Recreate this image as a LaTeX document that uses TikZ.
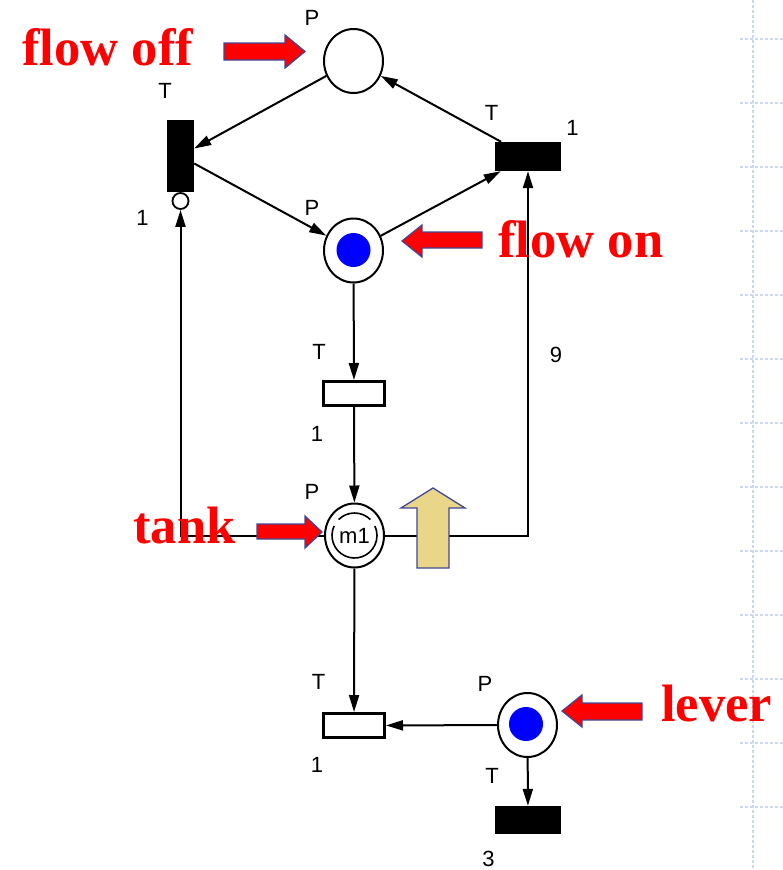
\documentclass[tikz,border=0pt]{standalone}
\usepackage{fontspec}
\setmainfont{Liberation Serif}
\setsansfont{Liberation Sans}
\usetikzlibrary{arrows.meta,shapes.geometric}
\definecolor{calloutred}{RGB}{255,0,0}
\definecolor{calloutedge}{RGB}{62,72,150}
\definecolor{tokenblue}{RGB}{0,0,255}
\definecolor{khaki}{RGB}{234,214,136}
\definecolor{gridblue}{RGB}{205,214,242}
\begin{document}
\begin{tikzpicture}[x=1pt,y=-1pt,
  place/.style={ellipse,draw,line width=2pt,fill=white,minimum width=59pt,minimum height=64pt,inner sep=0pt},
  token/.style={circle,fill=tokenblue,minimum size=34pt,inner sep=0pt},
  blackbar/.style={rectangle,fill=black,inner sep=0pt},
  whitebar/.style={rectangle,draw,line width=3pt,fill=white,minimum width=61pt,minimum height=24pt,inner sep=0pt},
  inhib/.style={circle,draw,line width=1.8pt,fill=white,minimum size=16pt,inner sep=0pt},
  arc/.style={-{Triangle[length=17pt,width=10pt]},line width=2pt},
  lab/.style={font=\sffamily\fontsize{22}{22}\selectfont,inner sep=0pt},
  callout/.style={font=\rmfamily\bfseries\fontsize{52.6}{60}\selectfont,text=calloutred,inner sep=0pt,anchor=base west},
  calloutarrow/.style={fill=calloutred,draw=calloutedge,line width=1.3pt,line join=miter},
  grid/.style={draw=gridblue,line width=1.4pt,dash pattern=on 3pt off 2pt}
]
\useasboundingbox (0,0) rectangle (783,870);
% slide decoration
\draw[grid] (753,0) -- (753,870);
\foreach \k in {0,...,12}{
  \draw[grid] (740,{39+64*\k}) -- (783,{39+64*\k});
}
% places
\node[place] (p1) at (353.5,61) {};
\node[place] (p2) at (353.5,250.5) {};
\node[token] (p2tok) at (353.5,250) {};
\node[place,font=\sffamily\fontsize{22}{22}\selectfont] (tank) at (354.5,535.5) {m1};
\node[place] (lever) at (527.5,725) {};
\node[token] (levertok) at (526,724) {};
% transitions
\node[blackbar,minimum width=27pt,minimum height=72pt] (t1) at (180.5,156) {};
\node[inhib] (inh) at (180.5,201) {};
\node[blackbar,minimum width=66pt,minimum height=29pt] (t2) at (528,156.5) {};
\node[whitebar] (t3) at (354,393.5) {};
\node[whitebar] (t4) at (354,725.5) {};
\node[blackbar,minimum width=66pt,minimum height=28pt] (t5) at (528,820) {};
% inner ring of the tank place
\draw[line width=1.6pt] ([shift={(-135:22.5)}]tank.center) arc[start angle=-135,end angle=-45,radius=22.5];
\draw[line width=1.6pt] ([shift={(-155:22.5)}]tank.center) arc[start angle=-155,end angle=-385,radius=22.5];
% connectors
\draw[arc] (p1) -- (t1);
\draw[arc] (t1) -- (p2);
\draw[arc] (p2) -- (t2);
\draw[arc] (t2) -- (p1);
\draw[arc] (p2) -- (t3);
\draw[arc] (t3) -- (tank);
\draw[arc] (tank) -- (t4);
\draw[arc] (lever) -- (t4);
\draw[arc] (lever) -- (t5);
\draw[arc] (tank.east) -| (t2.south);
\draw[arc] (tank.west) -| (inh.south);
% labels
\node[lab] (lp1) at (312,18) {P};
\node[lab] (lt1) at (165,91) {T};
\node[lab] (lt1w) at (142.5,217.5) {1};
\node[lab] (lt2) at (491.5,112.5) {T};
\node[lab] (lt2w) at (572.5,127.5) {1};
\node[lab] (lp2) at (312,208) {P};
\node[lab] (lt3) at (319,352) {T};
\node[lab] (l9) at (556,354.5) {9};
\node[lab] (lt3w) at (317,434) {1};
\node[lab] (ltank) at (312,492) {P};
\node[lab] (lt4) at (318.5,682) {T};
\node[lab] (lt4w) at (317,765) {1};
\node[lab] (llever) at (485,684) {P};
\node[lab] (lt5) at (492,776) {T};
\node[lab] (lt5w) at (488.5,858.5) {3};
% yellow block arrow
\filldraw[fill=khaki,draw=calloutedge,line width=1.3pt] (417,568) -- (417,508) -- (401,508) -- (433,488) -- (465,508) -- (449,508) -- (449,568) -- cycle;
% callout arrows
\filldraw[calloutarrow] (224,43) -- (285,43) -- (285,35) -- (305,51.5) -- (285,68) -- (285,60) -- (224,60) -- cycle;
\filldraw[calloutarrow] (482,232) -- (422,232) -- (422,225) -- (402,241) -- (422,257) -- (422,248) -- (482,248) -- cycle;
\filldraw[calloutarrow] (257,524) -- (305,524) -- (305,516) -- (322,532) -- (305,548) -- (305,539) -- (257,539) -- cycle;
\filldraw[calloutarrow] (642,703) -- (582,703) -- (582,695) -- (562,711) -- (582,727) -- (582,720) -- (642,720) -- cycle;
% callout texts
\node[callout] (cflowoff) at (22,65) {flow off};
\node[callout] (cflowon) at (498,257) {flow on};
\node[callout] (ctank) at (133,543) {tank};
\node[callout] (clever) at (661,721) {lever};
\end{tikzpicture}
\end{document}
